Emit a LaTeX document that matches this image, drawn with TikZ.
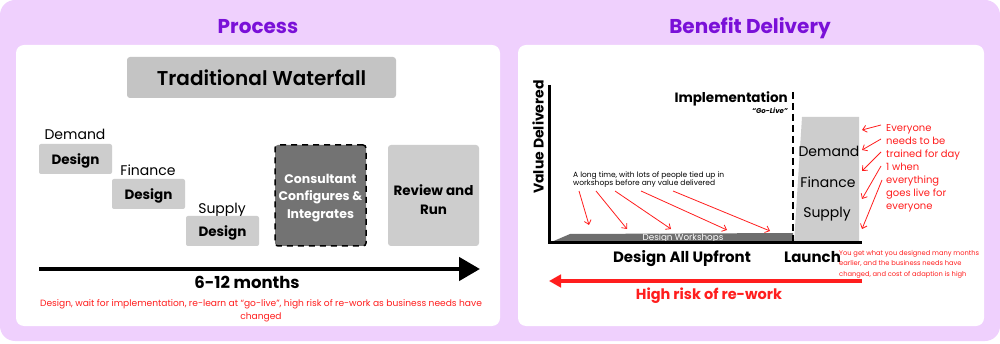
\documentclass[tikz,border=0pt]{standalone}
\usepackage{fontspec}
\setmainfont{Poppins}
\newfontfamily\semibold{Poppins SemiBold}
\usetikzlibrary{arrows.meta}
\definecolor{lilac}{HTML}{EFD0FD}
\definecolor{headpurple}{HTML}{7A10D8}
\definecolor{lightgrey}{HTML}{CDCDCD}
\definecolor{headgrey}{HTML}{C4C4C4}
\definecolor{midgrey}{HTML}{737373}
\definecolor{bargrey}{HTML}{6E6E6E}
\definecolor{warnred}{HTML}{FF1E1E}

\begin{document}
\begin{tikzpicture}[x=1pt,y=-1pt,
  heading/.style={font=\fontsize{20}{24}\selectfont\bfseries,text=headpurple,anchor=base},
  stagebox/.style={fill=lightgrey,rounded corners=2pt,inner sep=0pt,minimum width=73pt,minimum height=30pt,text depth=0pt,font=\fontsize{13.5}{16}\selectfont\bfseries},
  stagename/.style={font=\fontsize{14}{16}\selectfont,anchor=base},
  bigbox/.style={rounded corners=3pt,inner sep=0pt,minimum width=91pt,minimum height=101pt},
  warntext/.style={text=warnred,inner sep=0pt},
  thinwarn/.style={warnred,line width=0.8pt,-{Straight Barb[length=4pt,width=7pt]}},
]
\useasboundingbox (0,0) rectangle (1000,344);
\fill[lilac,rounded corners=15pt] (0,0) rectangle (1000,341);
\fill[white,rounded corners=8pt] (16,45) rectangle (500,326);
\fill[white,rounded corners=8pt] (518,45) rectangle (984,326);

\node[heading] (process) at (258,34) {Process};
\node[heading] (benefit) at (750,34) {Benefit Delivery};

\node[fill=headgrey,rounded corners=3pt,minimum width=269pt,minimum height=41pt,inner sep=0pt,font=\semibold\fontsize{20}{24}\selectfont] (waterfall) at (261.5,77.5) {Traditional Waterfall};

\node[stagename] (demand) at (75,140) {Demand};
\node[stagebox] (demanddesign) at (75.5,159) {Design};
\node[stagename] (finance) at (148,176) {Finance};
\node[stagebox] (financedesign) at (148.5,194) {Design};
\node[stagename] (supply) at (222,214) {Supply};
\node[stagebox] (supplydesign) at (222.5,231) {Design};

\node[bigbox,fill=midgrey,draw=black,line width=1.5pt,dash pattern=on 6pt off 5pt] (consultant) at (320.5,195.5) {};
\node[text=white,align=center,font=\fontsize{12.5}{17.5}\selectfont\bfseries] (consultanttext) at ([yshift=-2.5pt]consultant.center) {Consultant\\Configures \&\\Integrates};
\node[bigbox,fill=lightgrey] (review) at (433.5,195.5) {};
\node[font=\fontsize{13.5}{19}\selectfont\bfseries,align=center] (reviewtext) at ([yshift=-4.5pt]review.center) {Review and\\Run};

\coordinate (timestart) at (39,269);
\coordinate (timeend) at (480,269);
\draw[line width=4.5pt,-{Triangle[length=21pt,width=23pt]}] (timestart) -- (timeend);
\node[font=\fontsize{16.5}{20}\selectfont\bfseries,anchor=base] (duration) at (247,289) {6-12 months};
\node[warntext,font=\fontsize{9.1}{13}\selectfont,align=center,anchor=north] (processnote) at (261,299) {Design, wait for implementation, re-learn at “go-live”, high risk of re-work as business needs have\\changed};

\fill[bargrey] (549,243) -- (570,234) -- (793,233) -- (793,243) -- cycle;
\node[text=white,font=\fontsize{8.8}{10}\selectfont,anchor=base] (workshops) at (683,240.5) {Design Workshops};
\fill[lightgrey] (794,243) -- (802,117) -- (859,117) -- (859,243) -- cycle;

\coordinate (ytop) at (549,85);
\coordinate (origin) at (549,243);
\coordinate (xend) at (862,243);
\draw[line width=3pt] (ytop) -- (origin) -- (xend);
\coordinate (golivetop) at (793,92);
\coordinate (golivebottom) at (793,243);
\draw[line width=2pt,dash pattern=on 7pt off 4pt] (golivetop) -- (golivebottom);

\node[font=\fontsize{14}{16}\selectfont\bfseries,rotate=90] (valueaxis) at (538,137) {Value Delivered};
\node[font=\fontsize{13.5}{16}\selectfont\bfseries,anchor=base east,inner sep=0pt] (implementation) at (788,102.5) {Implementation};
\node[font=\fontsize{7}{8}\selectfont\bfseries\itshape,anchor=base east,inner sep=0pt] (golive) at (788,114) {“Go-Live”};

\node[stagename] (launchdemand) at (829,157) {Demand};
\node[stagename] (launchfinance) at (828,188) {Finance};
\node[stagename] (launchsupply) at (827,218) {Supply};

\node[warntext,font=\fontsize{10}{13.1}\selectfont,align=left,anchor=north west] (everyone) at (886,124) {Everyone\\needs to be\\trained for day\\1 when\\everything\\goes live for\\everyone};
\foreach \sx/\sy/\ex/\ey [count=\i] in {881/125/862/130, 881/139/862/150, 881/152/862/171, 881/166/862/199, 882/180/862/229} {
  \coordinate (trainfrom\i) at (\sx,\sy);
  \coordinate (trainto\i) at (\ex,\ey);
  \draw[thinwarn] (trainfrom\i) -- (trainto\i);
}

\node[font=\fontsize{7.5}{8.5}\selectfont,align=left,anchor=north west,inner sep=0pt] (longtime) at (573,171.5) {A long time, with lots of people tied up in\\workshops before any value delivered};
\foreach \sx/\sy/\ex/\ey [count=\i] in {579/191/589/225, 596/191/627/229, 615/191/671/229, 641/191/727/230, 673/191/770/231} {
  \coordinate (waitfrom\i) at (\sx,\sy);
  \coordinate (waitto\i) at (\ex,\ey);
  \draw[thinwarn] (waitfrom\i) -- (waitto\i);
}

\node[font=\fontsize{15}{18}\selectfont\bfseries,anchor=base] (upfront) at (682,263) {Design All Upfront};
\node[font=\fontsize{15}{18}\selectfont\bfseries,anchor=base] (launch) at (812.5,263) {Launch};
\node[warntext,font=\fontsize{6.7}{10.7}\selectfont,align=left,anchor=north west] (launchnote) at (839,250) {You get what you designed many months\\earlier, and the business needs have\\changed, and cost of adaption is high};

\coordinate (reworkstart) at (862,281);
\coordinate (reworkend) at (549,281);
\draw[warnred,line width=3.5pt,-{Triangle[length=12pt,width=12.5pt]}] (reworkstart) -- (reworkend);
\node[text=warnred,font=\fontsize{14.5}{17}\selectfont\bfseries,anchor=base] (rework) at (709,300) {High risk of re-work};
\end{tikzpicture}
\end{document}
